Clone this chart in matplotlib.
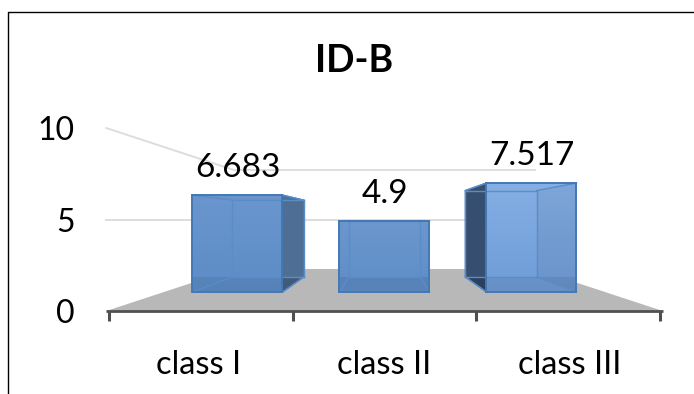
import matplotlib
matplotlib.use("Agg")
import matplotlib.pyplot as plt
import numpy as np
from matplotlib.colors import to_rgb
from matplotlib.patches import Polygon

categories = ["class I", "class II", "class III"]
values = [6.683, 4.9, 7.517]
value_labels = ["6.683", "4.9", "7.517"]
y_ticks = [0, 5, 10]
title = "ID-B"

W, H = 694, 394

# perspective set-up, in pixels: everything converges on (VX, VY)
VX, VY = 384.5, 219.5
CAT_W = 147.0      # width of one category at scale 1
UNIT = 14.5        # pixels per value unit at scale 1
REF_V = 5.0        # value that stays level at any depth
BAR_HALF = 45.0
S_FLOOR_FRONT = 1.262
S_FLOOR_BACK = 0.683
S_BAR_FRONT = 1.0
S_BAR_BACK = 0.793
S_TICK = 1.25

# (top colour, bottom colour) of each bar's front face
BAR_SHADES = [("#6a96cd", "#5c8cc6"), ("#6b97cd", "#5e8dc6"), ("#85afe5", "#6e9cd6")]
SIDE_COLORS = {0: "#4f6e93", 2: "#364f70"}
EDGE = "#4478b4"
INNER = "#5a8cc8"


def proj(x, v, s):
    # x is in category units (0 = left end of the axis)
    return (VX + (x - 1.5) * CAT_W * s, VY + (REF_V - v) * UNIT * s)


def line(ax, a, b, **kw):
    ax.plot([a[0], b[0]], [a[1], b[1]], **kw)


plt.rcParams["font.family"] = ["Lato", "DejaVu Sans"]

fig = plt.figure(figsize=(W / 100, H / 100), dpi=100)
ax = fig.add_axes([0, 0, 1, 1])
ax.axis("off")

# outer frame: left and top edges only
ax.plot([8.5, 8.5, W], [H, 11.5, 11.5], color="black", lw=1.0, zorder=1)

# floor
nx = len(categories)
floor = [proj(0, 0, S_FLOOR_FRONT), proj(nx, 0, S_FLOOR_FRONT),
         proj(nx, 0, S_FLOOR_BACK), proj(0, 0, S_FLOOR_BACK)]
ax.add_patch(Polygon(floor, closed=True, fc="#b8b8b8", ec="none", zorder=2))

# gridlines along the left wall and back wall
for tick in y_ticks[1:]:
    pts = [proj(0, tick, S_FLOOR_FRONT), proj(0, tick, S_FLOOR_BACK), proj(nx, tick, S_FLOOR_BACK)]
    ax.plot([p[0] for p in pts], [p[1] for p in pts], color="#dddddd", lw=1.4, zorder=2)

# value axis labels
for tick in y_ticks:
    _, py = proj(0, tick, S_FLOOR_FRONT)
    ax.text(75, py + 3, str(tick), ha="right", va="center", fontsize=23, color="black", zorder=6)

# category axis with ticks below it
ax_y = proj(0, 0, S_FLOOR_FRONT)[1]
line(ax, proj(0, 0, S_FLOOR_FRONT), proj(nx, 0, S_FLOOR_FRONT), color="#505050", lw=2.0,
     solid_capstyle="butt", zorder=3)
for i in range(nx + 1):
    px = proj(i, 0, S_TICK)[0]
    ax.plot([px, px], [ax_y, ax_y + 10], color="#505050", lw=2.2, solid_capstyle="butt", zorder=3)
for i, name in enumerate(categories):
    px = proj(i + 0.5, 0, S_FLOOR_FRONT)[0]
    ax.text(px, 365, name, ha="center", va="center", fontsize=23.5, color="black", zorder=6)

# bars as boxes seen through their front face
half = BAR_HALF / CAT_W
for i, v in enumerate(values):
    xc = i + 0.5
    l, r = xc - half, xc + half
    fbl, fbr = proj(l, 0, S_BAR_FRONT), proj(r, 0, S_BAR_FRONT)
    ftl, ftr = proj(l, v, S_BAR_FRONT), proj(r, v, S_BAR_FRONT)
    bbl, bbr = proj(l, 0, S_BAR_BACK), proj(r, 0, S_BAR_BACK)
    btl, btr = proj(l, v, S_BAR_BACK), proj(r, v, S_BAR_BACK)

    # dark outer side face, sticking out beyond the front face
    if i in SIDE_COLORS:
        side = [fbr, bbr, btr, ftr] if i == 0 else [fbl, bbl, btl, ftl]
        ax.add_patch(Polygon(side, closed=True, fc=SIDE_COLORS[i], ec=EDGE, lw=1.0, zorder=3.2))
        low = [fbr, bbr, (fbr[0], bbr[1])] if i == 0 else [fbl, bbl, (fbl[0], bbl[1])]
        ax.add_patch(Polygon(low, closed=True, fc="black", alpha=0.18, ec="none", zorder=3.25))

    # front face with a vertical shade
    top, bottom = (np.array(to_rgb(c)) for c in BAR_SHADES[i])
    t = np.linspace(0, 1, 64)[:, None, None]
    grad = (1 - t) * top[None, None, :] + t * bottom[None, None, :]
    im = ax.imshow(grad, extent=(ftl[0], ftr[0], fbl[1], ftl[1]), aspect="auto", zorder=3.4)
    face = Polygon([fbl, fbr, ftr, ftl], closed=True, transform=ax.transData, fc="none", ec="none")
    ax.add_patch(face)
    im.set_clip_path(face)

    # bar's floor seen through the face, and the far panel on the third bar
    ax.add_patch(Polygon([fbl, fbr, (fbr[0], bbr[1]), (fbl[0], bbl[1])], closed=True, fc="black",
                         alpha=0.07, ec="none", zorder=3.45))
    if i == 2:
        ax.add_patch(Polygon([fbr, bbr, btr, ftr], closed=True, fc="black", alpha=0.05,
                             ec="none", zorder=3.45))

    # inner box edges, kept inside the front face
    for a, b in [(bbl, bbr), (bbr, btr), (btr, btl), (btl, bbl), (fbl, bbl), (fbr, bbr),
                 (ftl, btl), (ftr, btr)]:
        line(ax, a, b, color=INNER, lw=1.0, zorder=3.5)

    ax.add_patch(Polygon([fbl, fbr, ftr, ftl], closed=True, fc="none", ec=EDGE, lw=1.4, zorder=3.6))
    ax.text((ftl[0] + ftr[0]) / 2, ftl[1] - 27, value_labels[i], ha="center", va="center",
            fontsize=24, color="black", zorder=6)

ax.text(354, 61, title, ha="center", va="center", fontsize=27, fontweight="bold", color="black", zorder=6)

ax.set_xlim(0, W)
ax.set_ylim(H, 0)

fig.savefig("out.png", dpi=100)
